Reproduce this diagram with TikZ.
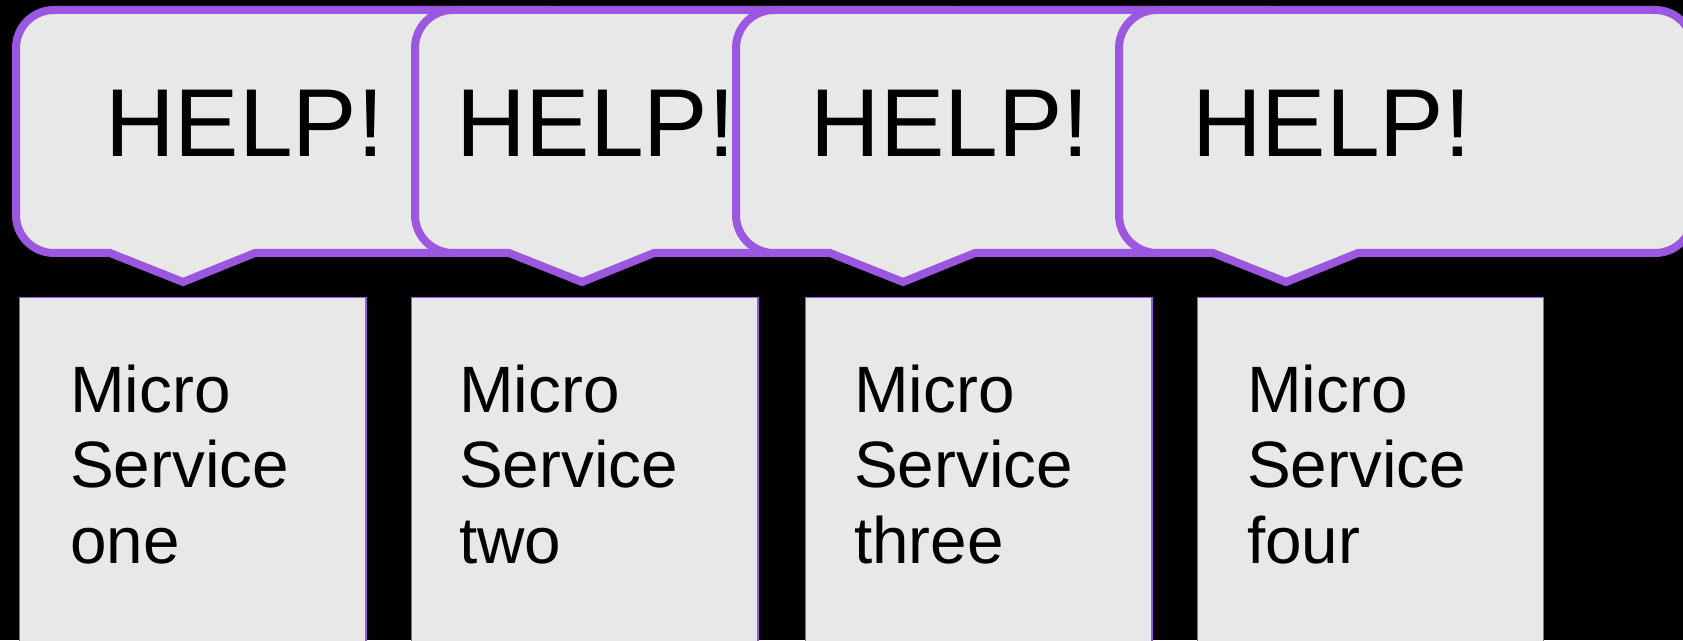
\documentclass[tikz,border=0pt]{standalone}
\usepackage{fontspec}
\setmainfont{Liberation Sans}
\definecolor{bpurple}{RGB}{155,87,224}
\definecolor{bfill}{RGB}{232,232,232}
\newcommand\bubblepath[1]{%
 \draw[bubble] (#1,425) -- (#1,592) arc[start angle=180,end angle=90,radius=38]
  -- (#1+536,630) arc[start angle=90,end angle=0,radius=38]
  -- (#1+574,425) arc[start angle=0,end angle=-90,radius=38]
  -- (#1+239,387) -- (#1+167,358) -- (#1+94,387)
  -- (#1+38,387) arc[start angle=270,end angle=180,radius=38] -- cycle;}
\begin{document}
\begin{tikzpicture}[x=1pt,y=1pt,
 bubble/.style={draw=bpurple,line width=8pt,fill=bfill,line join=miter},
 svcbox/.style={draw=bpurple,line width=1.5pt,fill=bfill},
 helptext/.style={anchor=base west,inner sep=0pt,font=\fontsize{96.5}{110}\selectfont},
 svctext/.style={anchor=base west,inner sep=0pt,align=left,font=\fontsize{65.6}{75.4}\selectfont}]
\fill[black] (0,0) rectangle (1683,640);
\useasboundingbox (0,0) rectangle (1683,640);
\clip (0,0) rectangle (1683,640);
% speech bubbles
\bubblepath{16}
\bubblepath{415}
\bubblepath{736}
\bubblepath{1119}
\node[helptext] (h1) at (104.8,483) {HELP!};
\node[helptext] (h2) at (455.8,483) {HELP!};
\node[helptext] (h3) at (810.3,483) {HELP!};
\node[helptext] (h4) at (1191.8,483) {HELP!};
% service boxes
\draw[svcbox] (19.5,-10) rectangle (366,342.5);
\draw[svcbox] (411.5,-10) rectangle (758,342.5);
\draw[svcbox] (805.5,-10) rectangle (1152,342.5);
\draw[svcbox] (1197.5,-10) rectangle (1543.5,342.5);
\node[svctext] (s1) at (70,77) {Micro\\Service\\one};
\node[svctext] (s2) at (459,77) {Micro\\Service\\two};
\node[svctext] (s3) at (854,77) {Micro\\Service\\three};
\node[svctext] (s4) at (1247,77) {Micro\\Service\\four};
\end{tikzpicture}
\end{document}
